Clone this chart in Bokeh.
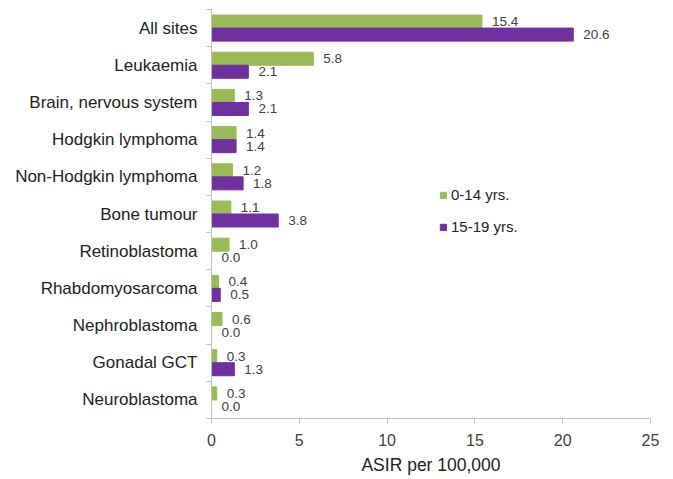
from bokeh.plotting import figure
from bokeh.models import (ColumnDataSource, Range1d, Legend, LegendItem,
                          LinearAxis, FixedTicker)
from bokeh.transform import dodge
from bokeh.core.properties import value
from bokeh.embed import file_html
from bokeh.resources import INLINE

categories = ["All sites", "Leukaemia", "Brain, nervous system", "Hodgkin lymphoma",
              "Non-Hodgkin lymphoma", "Bone tumour", "Retinoblastoma", "Rhabdomyosarcoma",
              "Nephroblastoma", "Gonadal GCT", "Neuroblastoma"]
age_0_14 = [15.4, 5.8, 1.3, 1.4, 1.2, 1.1, 1.0, 0.4, 0.6, 0.3, 0.3]
age_15_19 = [20.6, 2.1, 2.1, 1.4, 1.8, 3.8, 0.0, 0.5, 0.0, 1.3, 0.0]
x_ticks = [0, 5, 10, 15, 20, 25]

GREEN = "#9BBB59"
PURPLE = "#7030A0"
GREY = "#BFBFBF"
FONT = "Liberation Sans"

n = len(categories)
ypos = [n - i - 0.5 for i in range(n)]  # category slot centres, first category on top

src = ColumnDataSource(dict(
    y=ypos,
    a=age_0_14,
    b=age_15_19,
    a_lbl=[f"{v:.1f}" for v in age_0_14],
    b_lbl=[f"{v:.1f}" for v in age_15_19],
))

p = figure(width=665, height=477, output_backend="svg", toolbar_location=None,
           y_range=Range1d(0, n), x_range=Range1d(0, 25), y_axis_location=None,
           min_border_left=211, min_border_right=15, min_border_top=9, min_border_bottom=59)

# inner axis: separator ticks at category boundaries (no labels)
bounds = list(range(n + 1))
tick_axis = LinearAxis(ticker=FixedTicker(ticks=bounds),
                       major_label_overrides={b: "" for b in bounds},
                       major_label_standoff=0,
                       axis_line_color=GREY, major_tick_line_color=GREY,
                       major_tick_in=0, major_tick_out=5, minor_tick_line_color=None)
p.add_layout(tick_axis, "left")

# outer axis: category names at slot centres
cat_axis = LinearAxis(ticker=FixedTicker(ticks=ypos),
                      major_label_overrides={y: c for y, c in zip(ypos, categories)},
                      axis_line_color=None, major_tick_line_color=None,
                      minor_tick_line_color=None, major_label_standoff=3,
                      major_label_text_font=FONT, major_label_text_font_size="17px",
                      major_label_text_color="#222222")
p.add_layout(cat_axis, "left")

h = 0.35
r1 = p.hbar(y=dodge("y", 0.175), right="a", left=0, height=h, color=GREEN, source=src)
r2 = p.hbar(y=dodge("y", -0.175), right="b", left=0, height=h, color=PURPLE, source=src)

p.text(x="a", y=dodge("y", 0.175), text="a_lbl", source=src,
       x_offset=10, text_baseline="middle", text_font_size="13.5px",
       text_color="#404040", text_font=value(FONT))
p.text(x="b", y=dodge("y", -0.175), text="b_lbl", source=src,
       x_offset=10, text_baseline="middle", text_font_size="13.5px",
       text_color="#404040", text_font=value(FONT))

p.grid.visible = False
p.outline_line_color = None

p.xaxis.ticker = x_ticks
p.xaxis.axis_label = "ASIR per 100,000"
p.xaxis.axis_label_text_font_style = "normal"
p.xaxis.axis_label_text_font = FONT
p.xaxis.axis_label_text_font_size = "17.5px"
p.xaxis.axis_label_text_color = "#222222"
p.xaxis.axis_label_standoff = 6
p.xaxis.major_label_text_font = FONT
p.xaxis.major_label_text_font_size = "16px"
p.xaxis.major_label_text_color = "#404040"
p.xaxis.major_label_standoff = 10
p.xaxis.minor_tick_line_color = None
p.xaxis.major_tick_in = 0
p.xaxis.major_tick_out = 5
p.xaxis.axis_line_color = GREY
p.xaxis.major_tick_line_color = GREY

legend = Legend(items=[LegendItem(label="0-14 yrs.", renderers=[r1]),
                       LegendItem(label="15-19 yrs.", renderers=[r2])],
                location=(228, 183), orientation="vertical",
                label_text_font=FONT, label_text_font_size="15px",
                label_text_color="#222222", glyph_width=8, glyph_height=8,
                spacing=15, padding=0, label_standoff=4,
                border_line_color=None, background_fill_alpha=0)
p.add_layout(legend, "center")

open("out.html", "w").write(file_html(p, INLINE))
